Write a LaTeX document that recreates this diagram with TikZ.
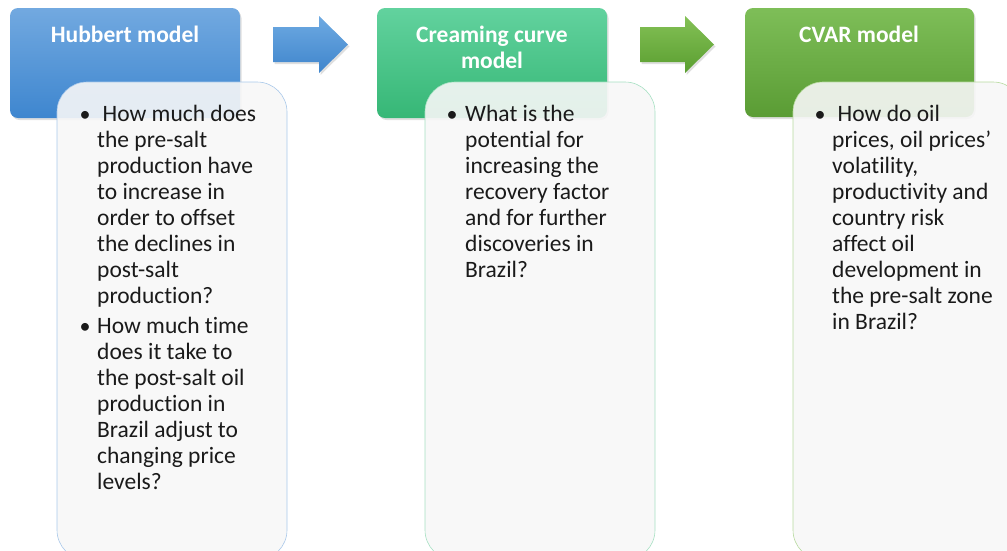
\documentclass[tikz,border=0pt]{standalone}
\usepackage{fontspec}
\setmainfont[Ligatures=NoCommon]{Carlito}
\usetikzlibrary{shadows}
\definecolor{HubTop}{HTML}{72A9E0}
\definecolor{HubBot}{HTML}{3E86CF}
\definecolor{CreTop}{HTML}{62D29E}
\definecolor{CreBot}{HTML}{36B776}
\definecolor{CvaTop}{HTML}{7EBE58}
\definecolor{CvaBot}{HTML}{5A9C34}
\definecolor{ArBTop}{HTML}{6EAAE2}
\definecolor{ArBBot}{HTML}{3F85CC}
\definecolor{ArGTop}{HTML}{84C156}
\definecolor{ArGBot}{HTML}{5A9E30}
\definecolor{BodyFill}{HTML}{F7F7F7}
\definecolor{HubLine}{HTML}{A9C8EA}
\definecolor{CreLine}{HTML}{A6E0C2}
\definecolor{CvaLine}{HTML}{B7DA9E}
\definecolor{TextCol}{HTML}{1A1A1A}
\begin{document}
\begin{tikzpicture}[x=1pt,y=-1pt,
  header/.style={rounded corners=8pt, minimum width=230pt, minimum height=110pt,
    inner sep=0pt, drop shadow={opacity=0.25,shadow xshift=1.5pt,shadow yshift=-2pt}},
  bodybox/.style={rounded corners=30pt, minimum width=230pt, minimum height=478pt,
    inner sep=0pt, fill=BodyFill, fill opacity=0.9, line width=0.6pt},
  title/.style={font=\bfseries\fontsize{23.5}{26}\selectfont, text=white, inner sep=0pt, anchor=base},
  line/.style={font=\fontsize{23.5}{26}\selectfont, text=TextCol, inner sep=0pt, anchor=base west},
  bul/.style={font=\fontsize{22}{26}\selectfont, text=TextCol, inner sep=0pt, anchor=base},
  blockarrow/.style={drop shadow={opacity=0.25,shadow xshift=1.5pt,shadow yshift=-2pt}}
]
\useasboundingbox (0,0) rectangle (1007,550);
\clip (0,0) rectangle (1007,550);

% header boxes
\node[header, top color=HubTop, bottom color=HubBot] (h1) at (125,63) {};
\node[header, top color=CreTop, bottom color=CreBot] (h2) at (492,63) {};
\node[header, minimum width=229pt, minimum height=109pt, top color=CvaTop, bottom color=CvaBot] (h3) at (859.5,62.5) {};

% header titles
\node[title] (t1) at (125,42) {Hubbert model};
\node[title] (t2a) at (492,42) {Creaming curve};
\node[title] (t2b) at (492,68) {model};
\node[title] (t3) at (859,42) {CVAR model};

% block arrows
\path[blockarrow, top color=ArBTop, bottom color=ArBBot]
  (273,27) -- (319,27) -- (319,16) -- (348,44.5) -- (319,73) -- (319,62) -- (273,62) -- cycle;
\path[blockarrow, top color=ArGTop, bottom color=ArGBot]
  (640,27) -- (685,27) -- (685,16) -- (714,44.5) -- (685,73) -- (685,62) -- (640,62) -- cycle;

% body boxes
\node[bodybox, draw=HubLine] (b1) at (172,321) {};
\node[bodybox, draw=CreLine] (b2) at (540,321) {};
\node[bodybox, draw=CvaLine] (b3) at (908,321) {};

% Hubbert text
\node[bul] (hb1) at (85,121) {\textbullet};
\node[line] (hl0) at (102.5,121) {How much does};
\foreach \t [count=\i] in {the pre-salt, production have, to increase in, order to offset, the declines in, post-salt, production?}
  \node[line] (hl\i) at (97,{121+26*\i}) {\t};
\node[bul] (hb2) at (85,333) {\textbullet};
\foreach \t [count=\i from 0] in {How much time, does it take to, the post-salt oil, production in, Brazil adjust to, changing price, levels?}
  \node[line] (hm\i) at (97,{333+26*\i}) {\t};

% Creaming text
\node[bul] (cb1) at (452,121) {\textbullet};
\foreach \t [count=\i from 0] in {What is the, potential for, increasing the, recovery factor, and for further, discoveries in, Brazil?}
  \node[line] (cl\i) at (465,{121+26*\i}) {\t};

% CVAR text
\node[bul] (vb1) at (820,121) {\textbullet};
\node[line] (vl0) at (837.5,121) {How do oil};
\foreach \t [count=\i] in {{prices, oil prices’}, {volatility,}, productivity and, country risk, affect oil, development in, the pre-salt zone, in Brazil?}
  \node[line] (vl\i) at (832,{121+26*\i}) {\t};
\end{tikzpicture}
\end{document}
